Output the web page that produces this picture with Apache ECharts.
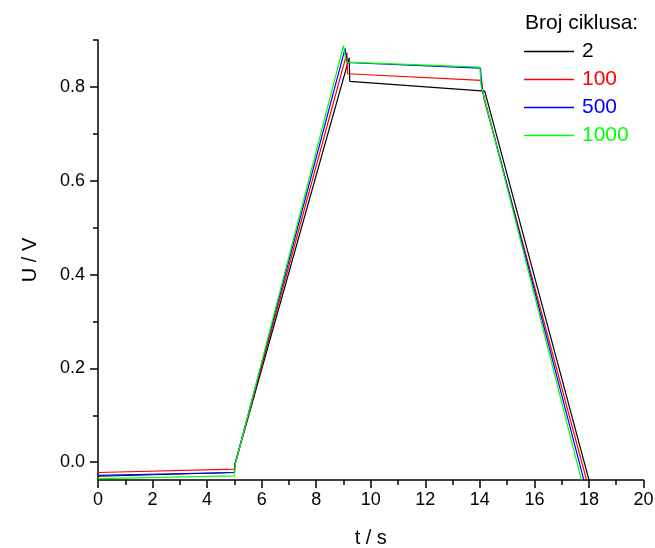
<!DOCTYPE html>
<html>
<head>
<meta charset="utf-8">
<script src="https://cdn.jsdelivr.net/npm/echarts@6/dist/echarts.min.js"></script>
<style>html,body{margin:0;padding:0;background:#fff}#c{width:655px;height:548px}</style>
</head>
<body>
<div id="c"></div>
<script>
// Data (t in s, U in V)
var seriesNames = ['2', '100', '500', '1000'];
var seriesColors = ['#000000', '#ff0000', '#0000ff', '#00ff00'];

var t2 = [0, 5.0, 5.02, 9.21, 9.23, 14.18, 18.02];
var u2 = [-0.030, -0.022, -0.005, 0.862, 0.812, 0.791, -0.042];

var t100 = [0, 5.0, 5.02, 9.13, 9.15, 14.06, 14.15, 17.93];
var u100 = [-0.022, -0.015, -0.005, 0.873, 0.828, 0.814, 0.775, -0.042];

var t500 = [0, 5.0, 5.02, 9.06, 9.12, 14.02, 14.08, 17.83];
var u500 = [-0.028, -0.022, -0.005, 0.882, 0.852, 0.840, 0.795, -0.042];

var t1000 = [0, 5.0, 5.03, 9.0, 9.1, 14.0, 14.04, 17.74];
var u1000 = [-0.035, -0.029, -0.005, 0.888, 0.853, 0.842, 0.805, -0.042];

var xTicks = [0, 2, 4, 6, 8, 10, 12, 14, 16, 18, 20];
var yMajorTicks = [0, 0.2, 0.4, 0.6, 0.8];
var yMinorTicks = [0.1, 0.3, 0.5, 0.7, 0.9];

var tArr = [t2, t100, t500, t1000];
var uArr = [u2, u100, u500, u1000];

var font = 'Liberation Sans, Arial, sans-serif';

var series = seriesNames.map(function (n, i) {
  return {
    name: n,
    type: 'line',
    xAxisIndex: 0,
    yAxisIndex: 0,
    data: tArr[i].map(function (t, j) { return [t, uArr[i][j]]; }),
    showSymbol: false,
    symbol: 'none',
    lineStyle: { color: seriesColors[i], width: 1.2 },
    itemStyle: { color: seriesColors[i] },
    animation: false,
    clip: true
  };
});

var chart = echarts.init(document.getElementById('c'), null, { renderer: 'canvas' });
chart.setOption({
  animation: false,
  backgroundColor: '#fff',
  title: {
    text: 'Broj ciklusa:',
    left: 525,
    top: 13,
    padding: 0,
    textStyle: { fontFamily: font, fontSize: 21, fontWeight: 'normal', color: '#000' }
  },
  legend: {
    orient: 'vertical',
    left: 524,
    top: 41,
    padding: 0,
    icon: 'rect',
    itemWidth: 50,
    itemHeight: 1.5,
    itemGap: 7,
    textStyle: { fontFamily: font, fontSize: 21, lineHeight: 21, padding: [0, 0, 0, 3] },
    data: seriesNames.map(function (n, i) {
      return {
        name: n,
        icon: 'rect',
        itemStyle: { color: seriesColors[i], borderWidth: 0, opacity: 1 },
        lineStyle: { color: seriesColors[i], width: 0 },
        textStyle: { color: seriesColors[i] }
      };
    })
  },
  grid: { left: 98, right: 11.5, top: 40, bottom: 68, outerBoundsMode: 'none', containLabel: false },
  xAxis: {
    type: 'value',
    min: 0, max: 20, interval: 2,
    name: 't / s',
    nameLocation: 'middle',
    nameGap: 48,
    nameTextStyle: { fontFamily: font, fontSize: 20, color: '#000' },
    axisLine: { show: true, onZero: false, lineStyle: { color: '#000', width: 1.5 } },
    axisTick: { show: true, length: 8, lineStyle: { color: '#000', width: 1.5 } },
    minorTick: { show: true, splitNumber: 2, length: 5, lineStyle: { color: '#000', width: 1.5 } },
    axisLabel: { fontFamily: font, fontSize: 18, color: '#000', margin: 11 },
    splitLine: { show: false }
  },
  yAxis: [{
    type: 'value',
    min: -0.038, max: 0.9,
    name: 'U / V',
    nameLocation: 'middle',
    nameGap: 58,
    nameRotate: 90,
    nameTextStyle: { fontFamily: font, fontSize: 20, color: '#000' },
    axisLine: { show: true, onZero: false, lineStyle: { color: '#000', width: 1.5 } },
    axisTick: { show: true, length: 8, customValues: yMajorTicks, lineStyle: { color: '#000', width: 1.5 } },
    axisLabel: {
      fontFamily: font, fontSize: 18, color: '#000', margin: 13,
      customValues: yMajorTicks,
      formatter: function (v) { return v.toFixed(1); }
    },
    splitLine: { show: false }
  }, {
    type: 'value',
    min: -0.038, max: 0.9,
    position: 'left',
    axisLine: { show: false },
    axisTick: { show: true, length: 5, customValues: yMinorTicks, lineStyle: { color: '#000', width: 1.5 } },
    axisLabel: { show: false },
    splitLine: { show: false }
  }],
  series: series
});
</script>
</body>
</html>
